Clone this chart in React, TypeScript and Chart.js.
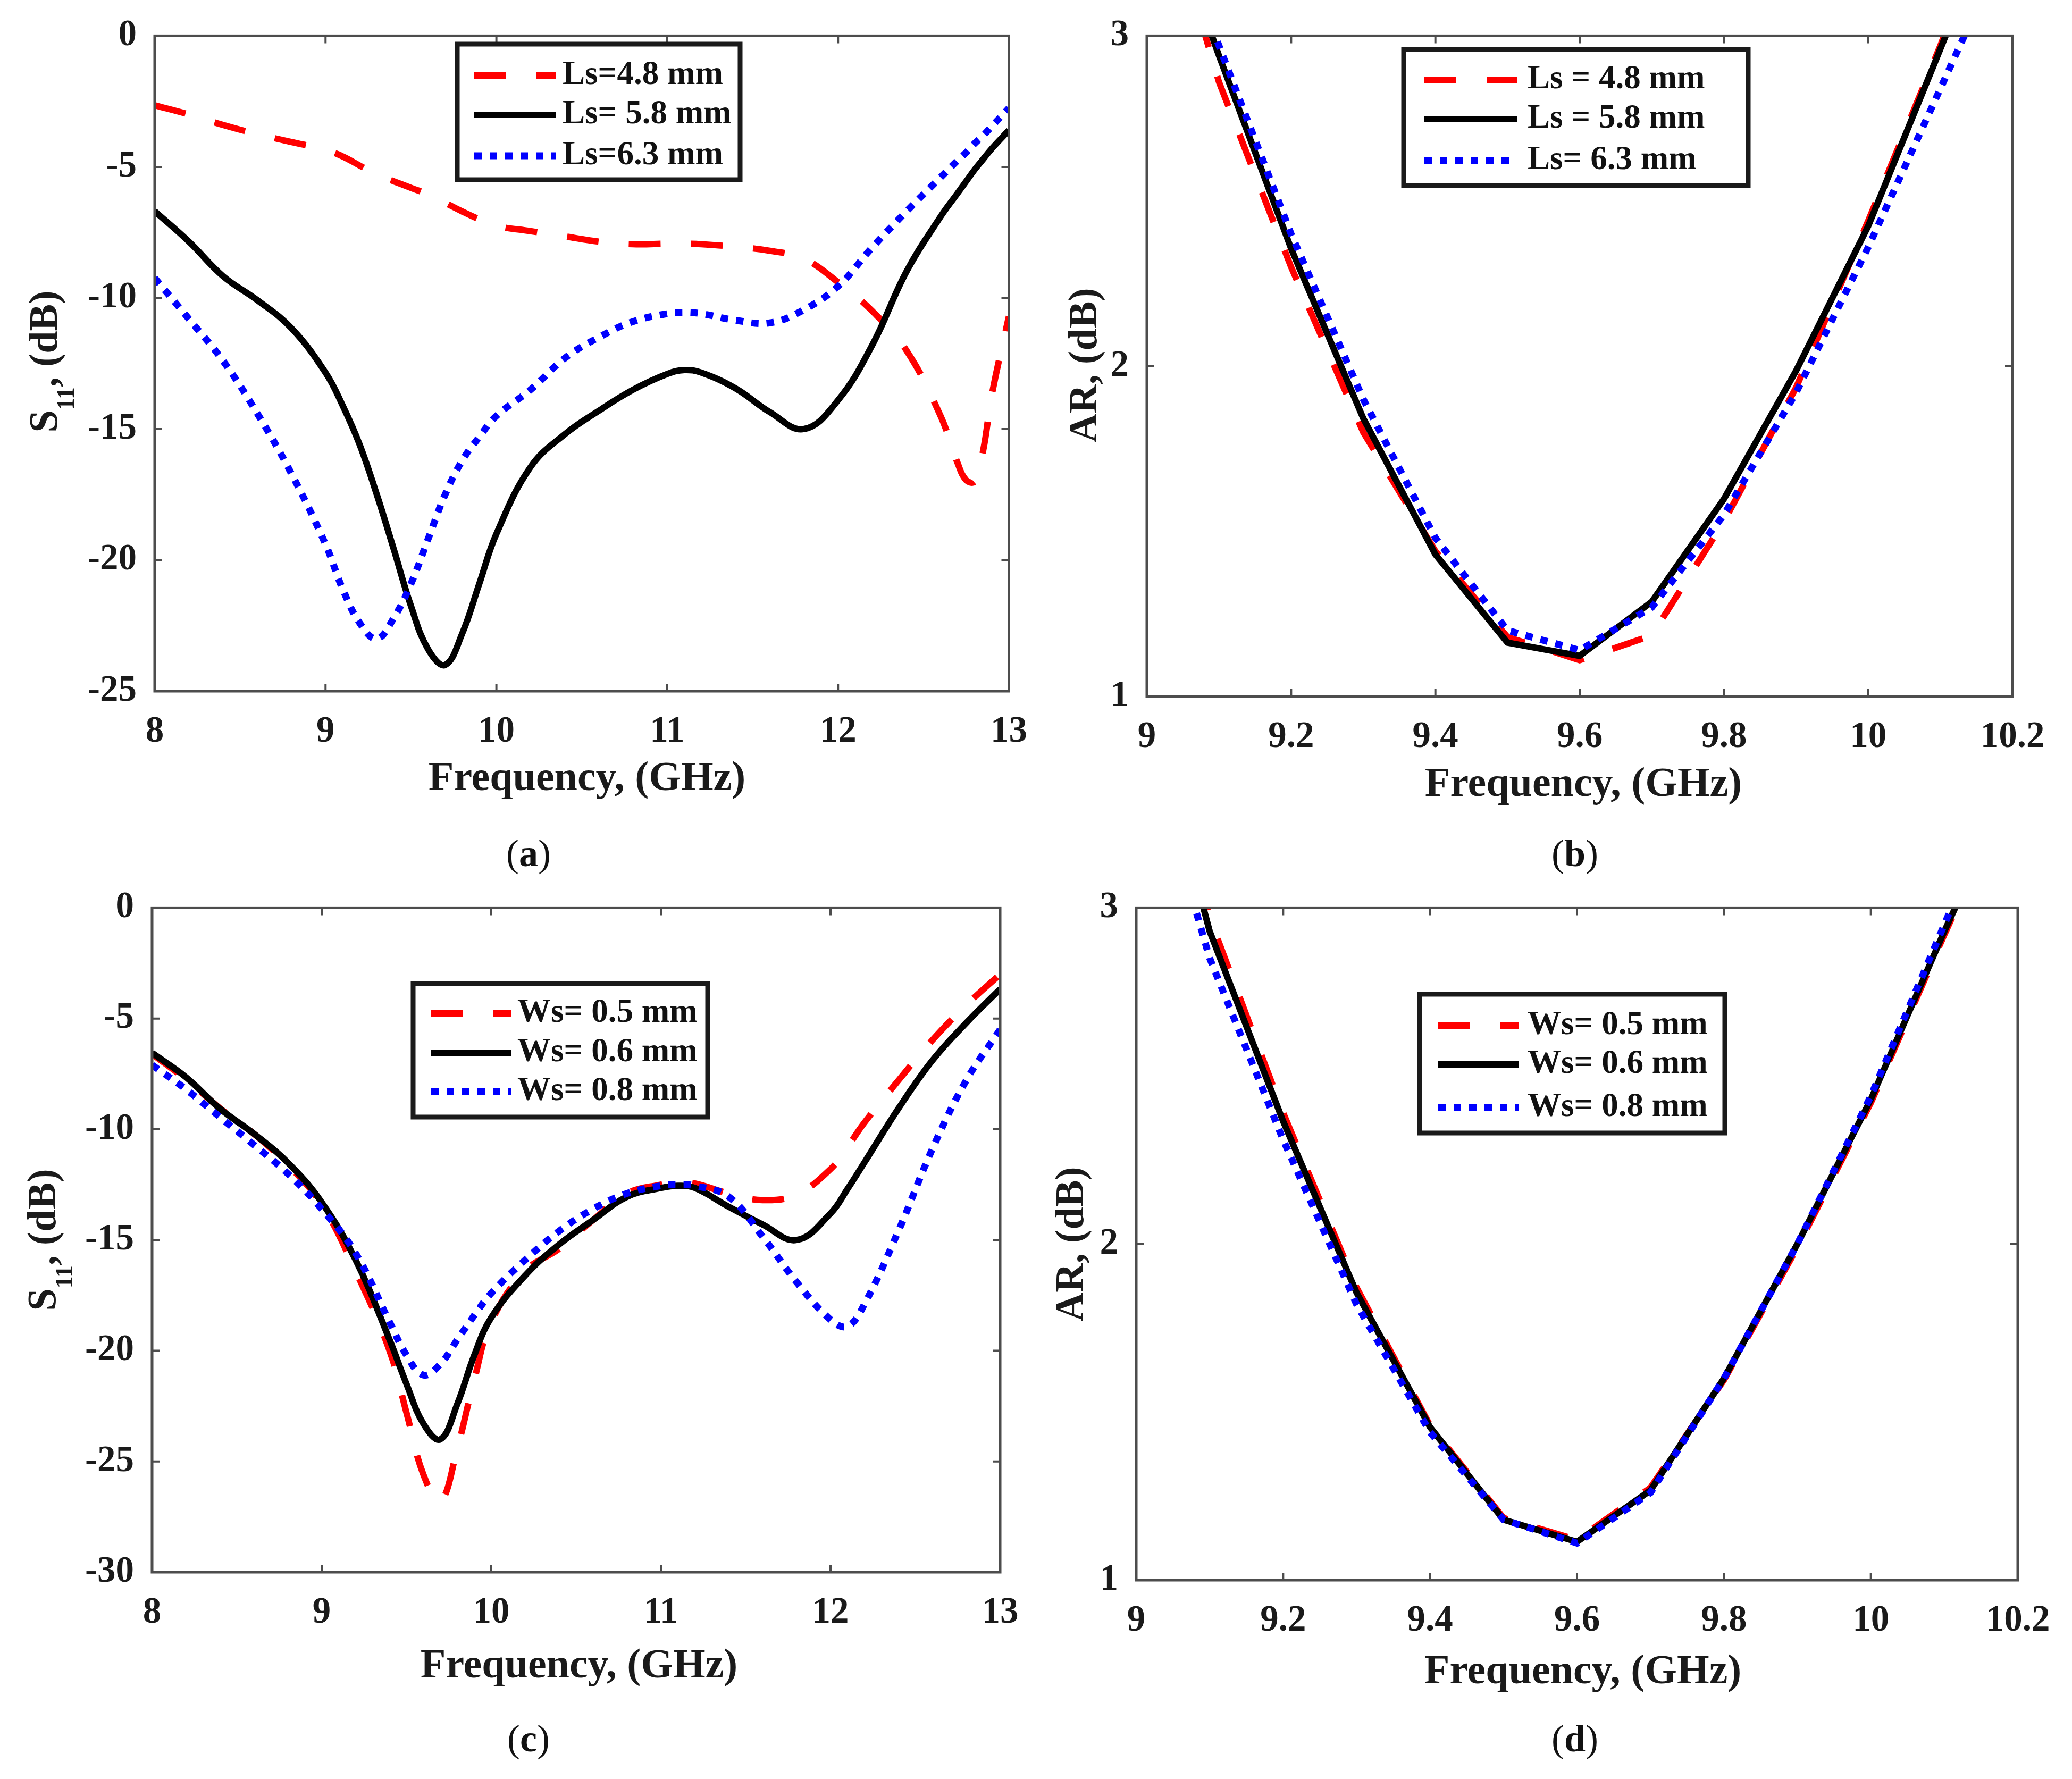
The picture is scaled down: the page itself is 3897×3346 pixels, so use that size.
import { useEffect, useRef } from "react"
import { Chart, registerables } from "chart.js"

Chart.register(...registerables)

const FONT = "'Liberation Serif', 'Times New Roman', serif"

// (a) S11 vs frequency, Ls sweep
const freqA = [8.0, 8.2, 8.4, 8.6, 8.8, 9.0, 9.1, 9.2, 9.3, 9.4, 9.5, 9.6, 9.7, 9.8, 9.9, 10.0, 10.2, 10.4, 10.6, 10.8, 11.0, 11.1, 11.2, 11.4, 11.6, 11.8, 12.0, 12.2, 12.4, 12.6, 12.7, 12.75, 12.8, 12.85, 12.9, 13.0]
const s11Ls48 = [-2.65, -3.0, -3.4, -3.75, -4.05, -4.35, -4.6, -4.95, -5.3, -5.55, -5.8, -6.05, -6.37, -6.7, -7.0, -7.25, -7.45, -7.65, -7.85, -7.95, -7.93, -7.93, -7.95, -8.05, -8.2, -8.5, -9.4, -10.5, -12.0, -14.5, -16.3, -16.95, -17.0, -15.8, -13.7, -10.7]
const s11Ls58 = [-6.69, -7.85, -9.17, -10.08, -11.15, -12.85, -14.1, -15.6, -17.5, -19.6, -21.75, -23.4, -24.0, -22.8, -20.9, -19.0, -16.45, -15.2, -14.3, -13.5, -12.9, -12.75, -12.85, -13.45, -14.35, -15.0, -13.9, -11.8, -9.0, -6.9, -6.0, -5.55, -5.1, -4.7, -4.3, -3.6]
const s11Ls63 = [-9.24, -10.8, -12.4, -14.4, -16.7, -19.4, -21.1, -22.4, -23.0, -22.2, -20.9, -19.2, -17.5, -16.2, -15.3, -14.5, -13.5, -12.3, -11.5, -10.9, -10.6, -10.55, -10.6, -10.85, -10.95, -10.45, -9.55, -8.07, -6.7, -5.4, -4.75, -4.45, -4.1, -3.8, -3.45, -2.76]

// (b) and (d) axial ratio vs frequency
const freqAR = [9.0, 9.1, 9.2, 9.3, 9.4, 9.5, 9.6, 9.7, 9.8, 9.9, 10.0, 10.1, 10.2]
const arLs48 = [3.6, 2.86, 2.3, 1.8, 1.44, 1.18, 1.11, 1.185, 1.53, 1.935, 2.44, 2.97, 3.55]
const arLs58 = [3.55, 2.94, 2.356, 1.842, 1.43, 1.163, 1.123, 1.287, 1.598, 1.986, 2.424, 2.96, 3.5]
const arLs63 = [3.55, 2.97, 2.4, 1.9, 1.48, 1.2, 1.14, 1.27, 1.55, 1.92, 2.36, 2.84, 3.32]

// (c) S11 vs frequency, Ws sweep
const freqC = [8.0, 8.2, 8.4, 8.6, 8.8, 9.0, 9.2, 9.4, 9.5, 9.6, 9.7, 9.8, 9.9, 10.0, 10.2, 10.4, 10.6, 10.8, 11.0, 11.1, 11.2, 11.4, 11.6, 11.8, 12.0, 12.1, 12.2, 12.4, 12.6, 12.8, 13.0]
const s11Ws05 = [-6.6, -7.75, -9.05, -10.2, -11.6, -13.4, -16.4, -20.0, -22.8, -25.6, -26.8, -24.4, -21.3, -18.7, -16.4, -15.4, -14.1, -12.9, -12.5, -12.4, -12.45, -12.9, -13.2, -12.95, -11.8, -10.8, -9.7, -7.8, -5.98, -4.4, -3.0]
const s11Ws06 = [-6.55, -7.65, -9.07, -10.2, -11.5, -13.3, -15.9, -19.5, -21.5, -23.3, -24.0, -22.4, -20.2, -18.5, -16.6, -15.2, -14.1, -13.05, -12.65, -12.55, -12.65, -13.5, -14.3, -15.0, -13.8, -12.7, -11.5, -9.07, -6.9, -5.2, -3.67]
const s11Ws08 = [-7.1, -8.2, -9.45, -10.7, -12.0, -13.6, -15.6, -18.7, -20.2, -21.1, -20.6, -19.5, -18.4, -17.4, -15.9, -14.6, -13.6, -12.9, -12.55, -12.5, -12.55, -13.05, -14.85, -16.9, -18.6, -18.9, -17.9, -14.6, -10.9, -7.8, -5.5]

const arWs05 = [3.8, 2.97, 2.39, 1.87, 1.46, 1.185, 1.12, 1.275, 1.595, 1.99, 2.42, 2.92, 3.4]
const arWs06 = [3.75, 2.93, 2.365, 1.855, 1.455, 1.18, 1.114, 1.267, 1.6, 2.0, 2.43, 2.93, 3.4]
const arWs08 = [3.6, 2.85, 2.31, 1.82, 1.44, 1.18, 1.11, 1.26, 1.6, 2.0, 2.44, 2.95, 3.45]

// tick labels
const ticksFreqS11 = [8, 9, 10, 11, 12, 13]
const ticksFreqAR = [9, 9.2, 9.4, 9.6, 9.8, 10, 10.2]
const ticksS11A = [-25, -20, -15, -10, -5, 0]
const ticksS11C = [-30, -25, -20, -15, -10, -5, 0]
const ticksAR = [1, 2, 3]

const labelsLsA = ["Ls=4.8 mm", "Ls= 5.8 mm", "Ls=6.3 mm"]
const labelsLsB = ["Ls = 4.8 mm", "Ls = 5.8 mm", "Ls= 6.3 mm"]
const labelsWs = ["Ws= 0.5 mm", "Ws= 0.6 mm", "Ws= 0.8 mm"]

const RED = { color: "#ff0000", dash: [60, 57], width: 12 }
const BLACK = { color: "#000000", dash: [] as number[], width: 12 }
const BLUE = { color: "#0000ff", dash: [14, 15], width: 13 }
const STYLES = [RED, BLACK, BLUE]

const decor = {
  id: "decor",
  afterDraw(chart: any, _args: any, o: any) {
    const { ctx, chartArea: a } = chart
    const xs = chart.scales.x
    const ys = chart.scales.y
    ctx.save()

    // MATLAB style box with inward ticks
    ctx.strokeStyle = "#4d4d4d"
    ctx.lineWidth = 5
    ctx.setLineDash([])
    ctx.strokeRect(a.left, a.top, a.right - a.left, a.bottom - a.top)
    ctx.lineWidth = 4
    ctx.beginPath()
    xs.ticks.forEach((t: any) => {
      const px = xs.getPixelForValue(t.value)
      ctx.moveTo(px, a.bottom)
      ctx.lineTo(px, a.bottom - 14)
      ctx.moveTo(px, a.top)
      ctx.lineTo(px, a.top + 14)
    })
    ys.ticks.forEach((t: any) => {
      const py = ys.getPixelForValue(t.value)
      ctx.moveTo(a.left, py)
      ctx.lineTo(a.left + 14, py)
      ctx.moveTo(a.right, py)
      ctx.lineTo(a.right - 14, py)
    })
    ctx.stroke()

    // legend box
    const L = o.legend
    const ox = o.ox
    const oy = o.oy
    ctx.fillStyle = "#ffffff"
    ctx.fillRect(L.x1 - ox, L.y1 - oy, L.x2 - L.x1, L.y2 - L.y1)
    ctx.strokeStyle = "#1a1a1a"
    ctx.lineWidth = 9
    ctx.strokeRect(L.x1 - ox, L.y1 - oy, L.x2 - L.x1, L.y2 - L.y1)
    o.labels.forEach((label: string, i: number) => {
      const s = STYLES[i]
      const y = L.rows[i] - oy
      ctx.setLineDash(s.dash)
      ctx.lineCap = "butt"
      ctx.strokeStyle = s.color
      ctx.lineWidth = s.width
      ctx.beginPath()
      ctx.moveTo(L.s1 - ox, y)
      ctx.lineTo(L.s2 - ox, y)
      ctx.stroke()
      ctx.setLineDash([])
      ctx.fillStyle = "#111111"
      ctx.font = `bold 63px ${FONT}`
      ctx.textAlign = "left"
      ctx.textBaseline = "middle"
      ctx.fillText(label, L.tx - ox, y)
    })

    // x axis title
    ctx.fillStyle = "#1a1a1a"
    ctx.font = `bold 78px ${FONT}`
    ctx.textAlign = "center"
    ctx.textBaseline = "alphabetic"
    ctx.fillText("Frequency, (GHz)", o.xTitle.x - ox, o.xTitle.y - oy)

    // y axis title (rotated, with optional subscript)
    const size = 76
    ctx.translate(o.yTitle.x - ox, o.yTitle.y - oy)
    ctx.rotate(-Math.PI / 2)
    ctx.textAlign = "left"
    let total = 0
    o.yTitle.parts.forEach((p: any) => {
      ctx.font = `bold ${size * p.scale}px ${FONT}`
      total += ctx.measureText(p.text).width
    })
    let x = -total / 2
    o.yTitle.parts.forEach((p: any) => {
      ctx.font = `bold ${size * p.scale}px ${FONT}`
      ctx.fillText(p.text, x, p.shift * size)
      x += ctx.measureText(p.text).width
    })
    ctx.restore()
  },
}

const S11_TITLE = [
  { text: "S", scale: 1, shift: 0 },
  { text: "11", scale: 0.6, shift: 0.42 },
  { text: ", (dB)", scale: 1, shift: 0 },
]
const AR_TITLE = [{ text: "AR, (dB)", scale: 1, shift: 0 }]

type Panel = {
  left: number
  top: number
  width: number
  height: number
  plot: { l: number; t: number; r: number; b: number }
  freq: number[]
  series: number[][]
  xMin: number
  xMax: number
  xTicks: number[]
  yMin: number
  yMax: number
  yTicks: number[]
  smooth: boolean
  labels: string[]
  legend: any
  xTitle: { x: number; y: number }
  yTitle: { x: number; y: number; parts: any[] }
}

const panels: Panel[] = [
  {
    left: 0, top: 0, width: 1960, height: 1560,
    plot: { l: 291, t: 55, r: 1909, b: 1300 },
    freq: freqA, series: [s11Ls48, s11Ls58, s11Ls63],
    xMin: 8, xMax: 13, xTicks: ticksFreqS11,
    yMin: -25, yMax: 0, yTicks: ticksS11A, smooth: true,
    labels: labelsLsA,
    legend: { x1: 860, y1: 83, x2: 1392, y2: 338, rows: [142, 216, 293], s1: 892, s2: 1046, tx: 1058 },
    xTitle: { x: 1104, y: 1486 },
    yTitle: { x: 107, y: 680, parts: S11_TITLE },
  },
  {
    left: 1960, top: 0, width: 1937, height: 1560,
    plot: { l: 2157, t: 62, r: 3785, b: 1310 },
    freq: freqAR, series: [arLs48, arLs58, arLs63],
    xMin: 9, xMax: 10.2, xTicks: ticksFreqAR,
    yMin: 1, yMax: 3, yTicks: ticksAR, smooth: false,
    labels: labelsLsB,
    legend: { x1: 2640, y1: 93, x2: 3288, y2: 349, rows: [150, 224, 302], s1: 2679, s2: 2853, tx: 2873 },
    xTitle: { x: 2978, y: 1497 },
    yTitle: { x: 2062, y: 687, parts: AR_TITLE },
  },
  {
    left: 0, top: 1640, width: 1960, height: 1560,
    plot: { l: 286, t: 1697, r: 1881, b: 2957 },
    freq: freqC, series: [s11Ws05, s11Ws06, s11Ws08],
    xMin: 8, xMax: 13, xTicks: ticksFreqS11,
    yMin: -30, yMax: 0, yTicks: ticksS11C, smooth: true,
    labels: labelsWs,
    legend: { x1: 777, y1: 1850, x2: 1331, y2: 2101, rows: [1906, 1980, 2053], s1: 811, s2: 961, tx: 973 },
    xTitle: { x: 1089, y: 3155 },
    yTitle: { x: 104, y: 2332, parts: S11_TITLE },
  },
  {
    left: 1960, top: 1640, width: 1937, height: 1560,
    plot: { l: 2137, t: 1705, r: 3795, b: 2972 },
    freq: freqAR, series: [arWs05, arWs06, arWs08],
    xMin: 9, xMax: 10.2, xTicks: ticksFreqAR,
    yMin: 1, yMax: 3, yTicks: ticksAR, smooth: false,
    labels: labelsWs,
    legend: { x1: 2670, y1: 1870, x2: 3244, y2: 2131, rows: [1929, 2002, 2083], s1: 2705, s2: 2857, tx: 2873 },
    xTitle: { x: 2977, y: 3166 },
    yTitle: { x: 2037, y: 2340, parts: AR_TITLE },
  },
]

const captions = [
  { letter: "a", x: 994, y: 1605 },
  { letter: "b", x: 2962, y: 1605 },
  { letter: "c", x: 994, y: 3270 },
  { letter: "d", x: 2962, y: 3270 },
]

function PanelChart({ p }: { p: Panel }) {
  const canvasRef = useRef<HTMLCanvasElement>(null)
  const chartInstance = useRef<Chart | null>(null)

  useEffect(() => {
    if (!canvasRef.current) return
    if (chartInstance.current) chartInstance.current.destroy()

    const tickFont = { family: FONT, size: 69, weight: "bold" as const }
    const yAxisWidth = p.plot.l - p.left
    const xAxisHeight = p.top + p.height - p.plot.b

    chartInstance.current = new Chart(canvasRef.current, {
      type: "line",
      data: {
        datasets: p.series.map((vals, i) => ({
          label: p.labels[i],
          data: p.freq.map((f, j) => ({ x: f, y: vals[j] })),
          borderColor: STYLES[i].color,
          borderDash: STYLES[i].dash,
          borderWidth: STYLES[i].width,
          borderCapStyle: "butt" as const,
          pointRadius: 0,
          tension: p.smooth ? 0.4 : 0,
          clip: 0,
          order: 3 - i,
        })),
      },
      options: {
        responsive: false,
        animation: false,
        events: [],
        layout: {
          padding: { top: p.plot.t - p.top, right: p.left + p.width - p.plot.r, left: 0, bottom: 0 },
        },
        scales: {
          x: {
            type: "linear",
            min: p.xMin,
            max: p.xMax,
            grid: { display: false },
            border: { display: false },
            afterBuildTicks: (scale: any) => {
              scale.ticks = p.xTicks.map((v) => ({ value: v }))
            },
            afterFit: (scale: any) => {
              scale.height = xAxisHeight
            },
            ticks: {
              font: tickFont,
              color: "#1a1a1a",
              padding: 28,
              maxRotation: 0,
              autoSkip: false,
              callback: (v: any) => String(Number(Number(v).toFixed(1))),
            },
          },
          y: {
            type: "linear",
            min: p.yMin,
            max: p.yMax,
            grid: { display: false },
            border: { display: false },
            afterBuildTicks: (scale: any) => {
              scale.ticks = p.yTicks.map((v) => ({ value: v }))
            },
            afterFit: (scale: any) => {
              scale.width = yAxisWidth
            },
            ticks: {
              font: tickFont,
              color: "#1a1a1a",
              padding: 26,
              autoSkip: false,
              callback: (v: any) => String(v),
            },
          },
        },
        plugins: {
          legend: { display: false },
          tooltip: { enabled: false },
          // @ts-ignore custom plugin options
          decor: {
            ox: p.left,
            oy: p.top,
            legend: p.legend,
            labels: p.labels,
            xTitle: p.xTitle,
            yTitle: p.yTitle,
          },
        },
      },
      plugins: [decor],
    })

    return () => {
      if (chartInstance.current) {
        chartInstance.current.destroy()
        chartInstance.current = null
      }
    }
  }, [p])

  return (
    <div style={{ position: "absolute", left: p.left, top: p.top, width: p.width, height: p.height }}>
      <canvas ref={canvasRef} width={p.width} height={p.height} style={{ width: p.width, height: p.height }}></canvas>
    </div>
  )
}

export default function App() {
  useEffect(() => {
    document.body.style.margin = "0"
    document.body.style.background = "#ffffff"
  }, [])

  return (
    <div style={{ position: "relative", width: 3897, height: 3346, background: "#ffffff", overflow: "hidden" }}>
      {panels.map((p, i) => (
        <PanelChart key={i} p={p} />
      ))}
      {captions.map((c) => (
        <div
          key={c.letter}
          style={{
            position: "absolute",
            left: c.x - 100,
            top: c.y - 40,
            width: 200,
            textAlign: "center",
            fontFamily: FONT,
            fontSize: 72,
            lineHeight: "80px",
            color: "#111111",
          }}
        >
          (<b>{c.letter}</b>)
        </div>
      ))}
    </div>
  )
}
